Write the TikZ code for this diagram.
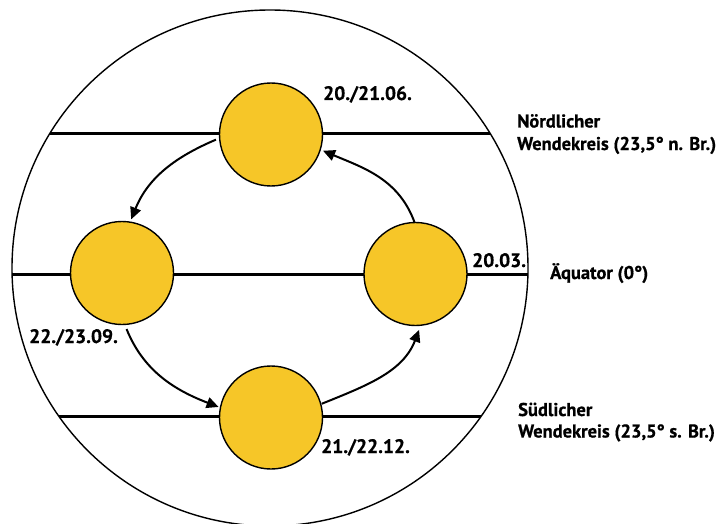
\documentclass[tikz,border=0pt]{standalone}
\usepackage{fontspec}
\setmainfont{PT Sans}[BoldFont={PT Sans Bold},BoldFeatures={FakeBold=0.7}]
\usetikzlibrary{arrows.meta}
\definecolor{sunfill}{RGB}{246,198,40}
\begin{document}
\begin{tikzpicture}[x=1pt,y=1pt,
  sunnode/.style={circle,draw=black,line width=1.4pt,fill=sunfill,minimum size=103pt,inner sep=0pt,outer sep=0pt},
  globestyle/.style={circle,draw=black,line width=1.4pt,minimum size=516pt,inner sep=0pt,outer sep=0pt},
  tropic/.style={line width=3pt},
  cyc/.style={line width=2pt,-{Triangle[length=12pt,width=11pt]}},
  lbl/.style={font=\fontsize{18.5}{22}\selectfont\bfseries,inner sep=0pt,anchor=base west},
  datelbl/.style={lbl,font=\fontsize{19.5}{22}\selectfont\bfseries},
]
\useasboundingbox (0,0) rectangle (728,-524);
\node[globestyle] (globe) at (270,-268) {};
% parallels
\coordinate (nl) at (50,-133.5);
\coordinate (nr) at (490,-133.5);
\coordinate (el) at (12,-274);
\coordinate (er) at (528,-274);
\coordinate (sl) at (59,-416);
\coordinate (sr) at (481,-416);
\draw[tropic] (nl) -- (nr);
\draw[tropic] (el) -- (er);
\draw[tropic] (sl) -- (sr);
% suns
\node[sunnode] (jun) at (271,-134.5) {};
\node[sunnode] (sep) at (122,-273) {};
\node[sunnode] (mar) at (415.5,-274) {};
\node[sunnode] (dec) at (271,-417.5) {};
% cycle arrows
\draw[cyc,shorten <=4pt,shorten >=3pt] (jun.184) to[out=203,in=68] (sep.81);
\draw[cyc,shorten <=5pt,shorten >=2pt] (sep.-87) to[out=292,in=159] (dec.169);
\draw[cyc,shorten <=1pt,shorten >=5pt] (dec.15) to[out=22,in=249] (mar.-84);
\draw[cyc,shorten >=3pt] (mar.91) to[out=110,in=-23] (jun.-17);
% labels
\node[datelbl] (tjun) at (323,-100) {20./21.06.};
\node[datelbl] (tmar) at (472,-267) {20.03.};
\node[datelbl] (tsep) at (29,-343) {22./23.09.};
\node[datelbl] (tdec) at (321,-453) {21./22.12.};
\node[lbl] (tn1) at (517,-127.5) {Nördlicher};
\node[lbl] (tn2) at (517,-150) {Wendekreis (23,5° n. Br.)};
\node[lbl] (teq) at (550,-279) {Äquator (0°)};
\node[lbl] (ts1) at (518,-416) {Südlicher};
\node[lbl] (ts2) at (518,-437.5) {Wendekreis (23,5° s. Br.)};
\end{tikzpicture}
\end{document}
